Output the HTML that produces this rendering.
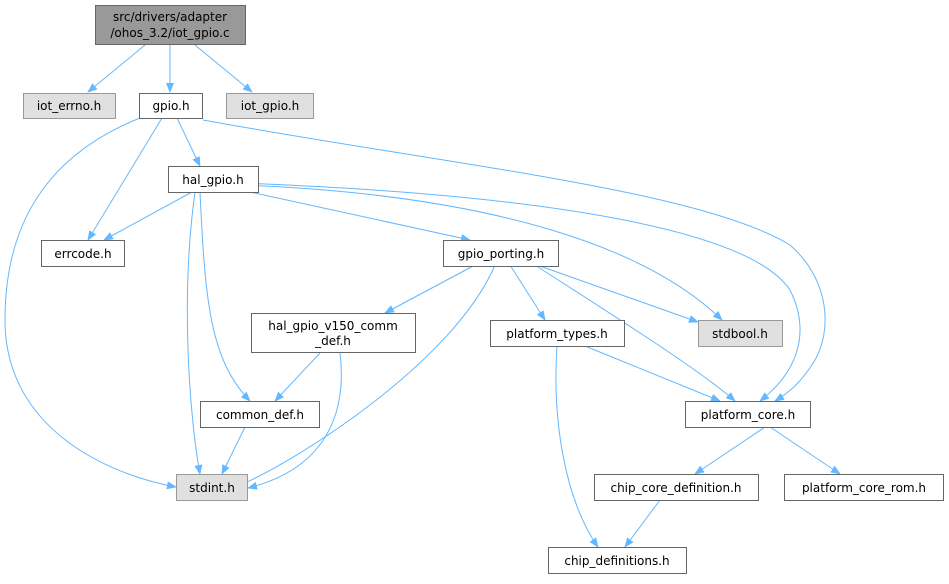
<!DOCTYPE html>
<html><head><style>
html,body{margin:0;padding:0;background:#fff;}
svg text{font-family:"DejaVu Sans","Liberation Sans",sans-serif;font-size:12px;fill:#000;}
</style></head><body>
<svg width="949" height="579" viewBox="0 0 949 579" xmlns="http://www.w3.org/2000/svg">
<defs><marker id="a" markerWidth="10" markerHeight="8" refX="9" refY="4" orient="auto" markerUnits="userSpaceOnUse"><path d="M0,0 L10,4 L0,8 z" fill="#63b8ff"/></marker></defs>
<g fill="none" stroke="#63b8ff" stroke-width="1" marker-end="url(#a)">
<path d="M145,45 L88,92"/>
<path d="M170,45 L170,92"/>
<path d="M195,45 L252,92"/>
<path d="M177,118 L200,166"/>
<path d="M162,118 L88,240"/>
<path d="M140,118 C60,150 5,210 5,320 C5,430 110,475 176,487"/>
<path d="M203,120 C450,165 700,190 790,245 C830,280 832,330 815,360 C800,385 785,395 775,401"/>
<path d="M192,192 L104,240"/>
<path d="M195,192 C180,300 190,420 200,474"/>
<path d="M200,192 C205,300 210,360 250,401"/>
<path d="M241,190 L470,240"/>
<path d="M241,185 C500,195 650,250 722,320"/>
<path d="M241,183 C550,195 750,230 790,290 C810,330 800,370 760,401"/>
<path d="M475,265 L385,313"/>
<path d="M495,265 C455,360 300,460 236,487"/>
<path d="M510,265 L545,320"/>
<path d="M535,265 C620,320 700,370 735,401"/>
<path d="M537,265 L698,322"/>
<path d="M320,353 L275,401"/>
<path d="M340,353 C348,420 320,470 248,488"/>
<path d="M585,346 L720,401"/>
<path d="M557,346 C552,420 565,500 598,547"/>
<path d="M245,427 L222,474"/>
<path d="M765,427 L695,474"/>
<path d="M770,427 L840,474"/>
<path d="M660,500 L625,547"/>
</g>
<g stroke-width="1">
<rect x="95.5" y="5.5" width="150" height="39" fill="#999" stroke="#666"/>
<rect x="23.5" y="93.5" width="92" height="25" fill="#e0e0e0" stroke="#999"/>
<rect x="139.5" y="93.5" width="63" height="25" fill="#fff" stroke="#666"/>
<rect x="226.5" y="93.5" width="87" height="25" fill="#e0e0e0" stroke="#999"/>
<rect x="168.5" y="166.5" width="90" height="26" fill="#fff" stroke="#666"/>
<rect x="41.5" y="240.5" width="83" height="26" fill="#fff" stroke="#666"/>
<rect x="443.5" y="240.5" width="115" height="26" fill="#fff" stroke="#666"/>
<rect x="698.5" y="320.5" width="84" height="26" fill="#e0e0e0" stroke="#999"/>
<rect x="251.5" y="313.5" width="164" height="39" fill="#fff" stroke="#666"/>
<rect x="490.5" y="320.5" width="134" height="26" fill="#fff" stroke="#666"/>
<rect x="200.5" y="401.5" width="119" height="26" fill="#fff" stroke="#666"/>
<rect x="685.5" y="401.5" width="125" height="26" fill="#fff" stroke="#666"/>
<rect x="176.5" y="474.5" width="71" height="26" fill="#e0e0e0" stroke="#999"/>
<rect x="594.5" y="474.5" width="164" height="26" fill="#fff" stroke="#666"/>
<rect x="784.5" y="474.5" width="159" height="26" fill="#fff" stroke="#666"/>
<rect x="548.5" y="547.5" width="138" height="26" fill="#fff" stroke="#666"/>
</g>
<g text-anchor="middle">
<text x="170" y="21">src/drivers/adapter</text>
<text x="170" y="37">/ohos_3.2/iot_gpio.c</text>
<text x="69" y="110">iot_errno.h</text>
<text x="171" y="110">gpio.h</text>
<text x="270" y="110">iot_gpio.h</text>
<text x="213" y="184">hal_gpio.h</text>
<text x="83" y="258">errcode.h</text>
<text x="501" y="258">gpio_porting.h</text>
<text x="740" y="338">stdbool.h</text>
<text x="333" y="330">hal_gpio_v150_comm</text>
<text x="333" y="345">_def.h</text>
<text x="557" y="338">platform_types.h</text>
<text x="260" y="419">common_def.h</text>
<text x="748" y="419">platform_core.h</text>
<text x="212" y="492">stdint.h</text>
<text x="676" y="492">chip_core_definition.h</text>
<text x="864" y="492">platform_core_rom.h</text>
<text x="617" y="565">chip_definitions.h</text>
</g>
</svg>
</body></html>
